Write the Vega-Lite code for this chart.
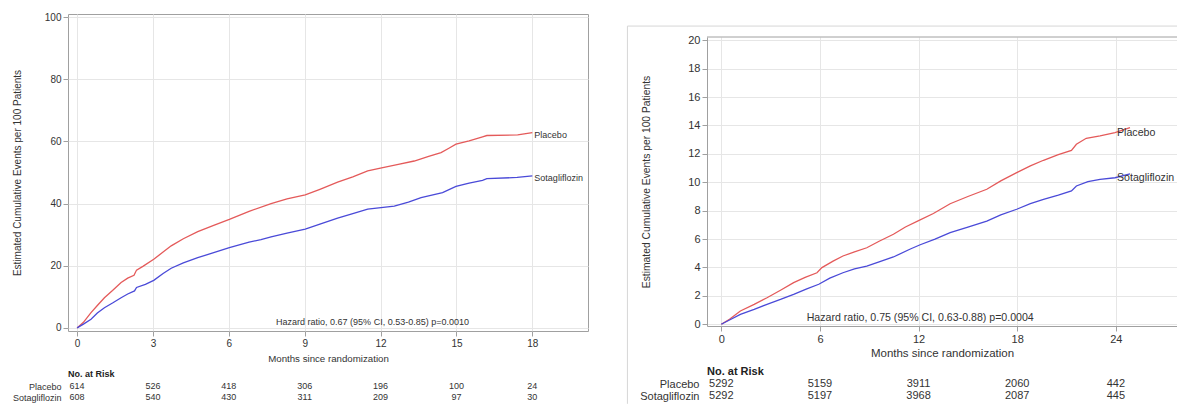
{
  "$schema": "https://vega.github.io/schema/vega-lite/v6.json",
  "background": "white",
  "padding": {"left": 11, "top": 11, "right": 0, "bottom": 0},
  "config": {
    "font": "Liberation Sans",
    "view": {"stroke": null},
    "axis": {"labelColor": "#333333", "titleColor": "#333333", "titleFontWeight": "normal", "gridColor": "#e6e6e6", "tickColor": "#a0a0a0", "domainColor": "#a0a0a0", "labelFlush": false, "labelOverlap": false},
    "text": {"color": "#333333"},
    "title": {"color": "#222222"}
  },
  "datasets": {
    "leftCurves": [
      {"group": "Placebo", "month": 0, "value": 0},
      {"group": "Placebo", "month": 0.25, "value": 1.8},
      {"group": "Placebo", "month": 0.55, "value": 4.9},
      {"group": "Placebo", "month": 0.8, "value": 7.2},
      {"group": "Placebo", "month": 1.08, "value": 9.7},
      {"group": "Placebo", "month": 1.4, "value": 12.0},
      {"group": "Placebo", "month": 1.74, "value": 14.6},
      {"group": "Placebo", "month": 2.0, "value": 16.0},
      {"group": "Placebo", "month": 2.25, "value": 16.9},
      {"group": "Placebo", "month": 2.35, "value": 18.6},
      {"group": "Placebo", "month": 2.6, "value": 19.8},
      {"group": "Placebo", "month": 3.03, "value": 22.1},
      {"group": "Placebo", "month": 3.4, "value": 24.4},
      {"group": "Placebo", "month": 3.72, "value": 26.4},
      {"group": "Placebo", "month": 4.2, "value": 28.7},
      {"group": "Placebo", "month": 4.77, "value": 31.0},
      {"group": "Placebo", "month": 5.4, "value": 33.0},
      {"group": "Placebo", "month": 6.02, "value": 34.9},
      {"group": "Placebo", "month": 6.8, "value": 37.5},
      {"group": "Placebo", "month": 7.67, "value": 40.0},
      {"group": "Placebo", "month": 8.3, "value": 41.5},
      {"group": "Placebo", "month": 9.02, "value": 42.8},
      {"group": "Placebo", "month": 9.6, "value": 44.6},
      {"group": "Placebo", "month": 10.3, "value": 46.9},
      {"group": "Placebo", "month": 10.9, "value": 48.6},
      {"group": "Placebo", "month": 11.49, "value": 50.5},
      {"group": "Placebo", "month": 12.04, "value": 51.5},
      {"group": "Placebo", "month": 12.7, "value": 52.6},
      {"group": "Placebo", "month": 13.33, "value": 53.7},
      {"group": "Placebo", "month": 13.9, "value": 55.2},
      {"group": "Placebo", "month": 14.39, "value": 56.4},
      {"group": "Placebo", "month": 14.7, "value": 57.8},
      {"group": "Placebo", "month": 14.98, "value": 59.1},
      {"group": "Placebo", "month": 15.5, "value": 60.2},
      {"group": "Placebo", "month": 16.03, "value": 61.5},
      {"group": "Placebo", "month": 16.2, "value": 61.9},
      {"group": "Placebo", "month": 17.42, "value": 62.1},
      {"group": "Placebo", "month": 18.0, "value": 62.8},
      {"group": "Sotagliflozin", "month": 0, "value": 0},
      {"group": "Sotagliflozin", "month": 0.25, "value": 1.2},
      {"group": "Sotagliflozin", "month": 0.55, "value": 2.8},
      {"group": "Sotagliflozin", "month": 0.8, "value": 4.8},
      {"group": "Sotagliflozin", "month": 1.08, "value": 6.5},
      {"group": "Sotagliflozin", "month": 1.4, "value": 8.0},
      {"group": "Sotagliflozin", "month": 1.74, "value": 9.7},
      {"group": "Sotagliflozin", "month": 2.0, "value": 10.9},
      {"group": "Sotagliflozin", "month": 2.27, "value": 11.9},
      {"group": "Sotagliflozin", "month": 2.35, "value": 13.0},
      {"group": "Sotagliflozin", "month": 2.7, "value": 14.0},
      {"group": "Sotagliflozin", "month": 3.03, "value": 15.3},
      {"group": "Sotagliflozin", "month": 3.4, "value": 17.5},
      {"group": "Sotagliflozin", "month": 3.72, "value": 19.2},
      {"group": "Sotagliflozin", "month": 4.2, "value": 20.9},
      {"group": "Sotagliflozin", "month": 4.77, "value": 22.6},
      {"group": "Sotagliflozin", "month": 5.4, "value": 24.2},
      {"group": "Sotagliflozin", "month": 6.02, "value": 25.8},
      {"group": "Sotagliflozin", "month": 6.8, "value": 27.6},
      {"group": "Sotagliflozin", "month": 7.27, "value": 28.4},
      {"group": "Sotagliflozin", "month": 7.67, "value": 29.3},
      {"group": "Sotagliflozin", "month": 8.3, "value": 30.5},
      {"group": "Sotagliflozin", "month": 9.02, "value": 31.8},
      {"group": "Sotagliflozin", "month": 9.6, "value": 33.4},
      {"group": "Sotagliflozin", "month": 10.3, "value": 35.3},
      {"group": "Sotagliflozin", "month": 10.9, "value": 36.8},
      {"group": "Sotagliflozin", "month": 11.49, "value": 38.2},
      {"group": "Sotagliflozin", "month": 12.54, "value": 39.2},
      {"group": "Sotagliflozin", "month": 13.1, "value": 40.5},
      {"group": "Sotagliflozin", "month": 13.6, "value": 41.9},
      {"group": "Sotagliflozin", "month": 14.45, "value": 43.5},
      {"group": "Sotagliflozin", "month": 14.98, "value": 45.5},
      {"group": "Sotagliflozin", "month": 15.5, "value": 46.6},
      {"group": "Sotagliflozin", "month": 16.03, "value": 47.5},
      {"group": "Sotagliflozin", "month": 16.2, "value": 48.0},
      {"group": "Sotagliflozin", "month": 17.4, "value": 48.4},
      {"group": "Sotagliflozin", "month": 18.0, "value": 48.9}
    ],
    "rightCurves": [
      {"group": "Placebo", "month": 0, "value": 0},
      {"group": "Placebo", "month": 0.5, "value": 0.35},
      {"group": "Placebo", "month": 1.16, "value": 0.94},
      {"group": "Placebo", "month": 2.0, "value": 1.4},
      {"group": "Placebo", "month": 2.78, "value": 1.87},
      {"group": "Placebo", "month": 3.6, "value": 2.4},
      {"group": "Placebo", "month": 4.4, "value": 2.93},
      {"group": "Placebo", "month": 5.1, "value": 3.3},
      {"group": "Placebo", "month": 5.82, "value": 3.63},
      {"group": "Placebo", "month": 6.12, "value": 3.99},
      {"group": "Placebo", "month": 6.8, "value": 4.45},
      {"group": "Placebo", "month": 7.4, "value": 4.81},
      {"group": "Placebo", "month": 8.1, "value": 5.1},
      {"group": "Placebo", "month": 8.85, "value": 5.39},
      {"group": "Placebo", "month": 9.6, "value": 5.85},
      {"group": "Placebo", "month": 10.47, "value": 6.34},
      {"group": "Placebo", "month": 11.2, "value": 6.85},
      {"group": "Placebo", "month": 12.0, "value": 7.3},
      {"group": "Placebo", "month": 12.9, "value": 7.8},
      {"group": "Placebo", "month": 13.92, "value": 8.49},
      {"group": "Placebo", "month": 15.0, "value": 9.0},
      {"group": "Placebo", "month": 16.15, "value": 9.51},
      {"group": "Placebo", "month": 17.0, "value": 10.1},
      {"group": "Placebo", "month": 17.97, "value": 10.68},
      {"group": "Placebo", "month": 18.8, "value": 11.15},
      {"group": "Placebo", "month": 19.6, "value": 11.55},
      {"group": "Placebo", "month": 20.5, "value": 11.95},
      {"group": "Placebo", "month": 21.3, "value": 12.25},
      {"group": "Placebo", "month": 21.6, "value": 12.68},
      {"group": "Placebo", "month": 22.2, "value": 13.1},
      {"group": "Placebo", "month": 23.04, "value": 13.26},
      {"group": "Placebo", "month": 23.95, "value": 13.49},
      {"group": "Placebo", "month": 24.86, "value": 13.85},
      {"group": "Sotagliflozin", "month": 0, "value": 0},
      {"group": "Sotagliflozin", "month": 0.5, "value": 0.3},
      {"group": "Sotagliflozin", "month": 1.16, "value": 0.7},
      {"group": "Sotagliflozin", "month": 2.0, "value": 1.05},
      {"group": "Sotagliflozin", "month": 2.78, "value": 1.41},
      {"group": "Sotagliflozin", "month": 3.6, "value": 1.75},
      {"group": "Sotagliflozin", "month": 4.4, "value": 2.11},
      {"group": "Sotagliflozin", "month": 5.2, "value": 2.5},
      {"group": "Sotagliflozin", "month": 5.93, "value": 2.82},
      {"group": "Sotagliflozin", "month": 6.6, "value": 3.25},
      {"group": "Sotagliflozin", "month": 7.4, "value": 3.63},
      {"group": "Sotagliflozin", "month": 8.1, "value": 3.9},
      {"group": "Sotagliflozin", "month": 8.85, "value": 4.1},
      {"group": "Sotagliflozin", "month": 9.6, "value": 4.4},
      {"group": "Sotagliflozin", "month": 10.47, "value": 4.74},
      {"group": "Sotagliflozin", "month": 11.5, "value": 5.3},
      {"group": "Sotagliflozin", "month": 12.1, "value": 5.6},
      {"group": "Sotagliflozin", "month": 13.0, "value": 6.0},
      {"group": "Sotagliflozin", "month": 13.92, "value": 6.45},
      {"group": "Sotagliflozin", "month": 15.0, "value": 6.85},
      {"group": "Sotagliflozin", "month": 16.15, "value": 7.27},
      {"group": "Sotagliflozin", "month": 17.0, "value": 7.7},
      {"group": "Sotagliflozin", "month": 17.97, "value": 8.1},
      {"group": "Sotagliflozin", "month": 18.8, "value": 8.5},
      {"group": "Sotagliflozin", "month": 19.6, "value": 8.8},
      {"group": "Sotagliflozin", "month": 20.5, "value": 9.1},
      {"group": "Sotagliflozin", "month": 21.3, "value": 9.39},
      {"group": "Sotagliflozin", "month": 21.6, "value": 9.74},
      {"group": "Sotagliflozin", "month": 22.3, "value": 10.05},
      {"group": "Sotagliflozin", "month": 23.04, "value": 10.21},
      {"group": "Sotagliflozin", "month": 23.95, "value": 10.32},
      {"group": "Sotagliflozin", "month": 24.86, "value": 10.6}
    ],
    "leftRisk": [
      {"group": "Placebo", "month": 0, "n": 614},
      {"group": "Placebo", "month": 3, "n": 526},
      {"group": "Placebo", "month": 6, "n": 418},
      {"group": "Placebo", "month": 9, "n": 306},
      {"group": "Placebo", "month": 12, "n": 196},
      {"group": "Placebo", "month": 15, "n": 100},
      {"group": "Placebo", "month": 18, "n": 24},
      {"group": "Sotagliflozin", "month": 0, "n": 608},
      {"group": "Sotagliflozin", "month": 3, "n": 540},
      {"group": "Sotagliflozin", "month": 6, "n": 430},
      {"group": "Sotagliflozin", "month": 9, "n": 311},
      {"group": "Sotagliflozin", "month": 12, "n": 209},
      {"group": "Sotagliflozin", "month": 15, "n": 97},
      {"group": "Sotagliflozin", "month": 18, "n": 30}
    ],
    "rightRisk": [
      {"group": "Placebo", "month": 0, "n": 5292},
      {"group": "Placebo", "month": 6, "n": 5159},
      {"group": "Placebo", "month": 12, "n": 3911},
      {"group": "Placebo", "month": 18, "n": 2060},
      {"group": "Placebo", "month": 24, "n": 442},
      {"group": "Sotagliflozin", "month": 0, "n": 5292},
      {"group": "Sotagliflozin", "month": 6, "n": 5197},
      {"group": "Sotagliflozin", "month": 12, "n": 3968},
      {"group": "Sotagliflozin", "month": 18, "n": 2087},
      {"group": "Sotagliflozin", "month": 24, "n": 445}
    ]
  },
  "hconcat": [
    {
      "vconcat": [
        {
          "width": 520,
          "height": 317,
          "view": {"stroke": "#a0a0a0"},
          "layer": [
            {
              "data": {"name": "leftCurves"},
              "mark": {"type": "line", "strokeWidth": 1.3},
              "encoding": {
                "x": {"field": "month", "type": "quantitative", "scale": {"domain": [-0.36, 20.2], "nice": false, "zero": false},
                  "axis": {"values": [0, 3, 6, 9, 12, 15, 18], "title": "Months since randomization", "labelFontSize": 10, "titleFontSize": 9.7, "tickSize": 5, "labelPadding": 2, "titlePadding": 5, "domain": false, "grid": true}},
                "y": {"field": "value", "type": "quantitative", "scale": {"domain": [-1, 101], "nice": false, "zero": false},
                  "axis": {"values": [0, 20, 40, 60, 80, 100], "title": "Estimated Cumulative Events per 100 Patients", "labelFontSize": 10, "titleFontSize": 10, "tickSize": 5, "labelPadding": 2, "titlePadding": 22, "domain": false, "grid": true}},
                "color": {"field": "group", "type": "nominal", "scale": {"domain": ["Placebo", "Sotagliflozin"], "range": ["#e45a5a", "#4a4ad8"]}, "legend": null}
              }
            },
            {
              "data": {"name": "leftCurves"},
              "transform": [{"filter": "datum.month == 18"}],
              "mark": {"type": "text", "align": "left", "dx": 2, "dy": 2.5, "fontSize": 9},
              "encoding": {"x": {"field": "month", "type": "quantitative"}, "y": {"field": "value", "type": "quantitative"}, "text": {"field": "group", "type": "nominal"}}
            },
            {
              "data": {"values": [{}]},
              "mark": {"type": "text", "align": "center", "fontSize": 9},
              "encoding": {"x": {"datum": 11.68}, "y": {"datum": 1.93}, "text": {"value": "Hazard ratio, 0.67 (95% CI, 0.53-0.85) p=0.0010"}}
            }
          ]
        },
        {
          "width": 520,
          "height": 22,
          "title": {"text": "No. at Risk", "anchor": "start", "frame": "group", "fontSize": 9, "fontWeight": "bold", "offset": 2},
          "data": {"name": "leftRisk"},
          "mark": {"type": "text", "fontSize": 9},
          "encoding": {
            "x": {"field": "month", "type": "quantitative", "scale": {"domain": [-0.36, 20.2], "nice": false, "zero": false}, "axis": null},
            "y": {"field": "group", "type": "nominal", "scale": {"domain": ["Placebo", "Sotagliflozin"], "paddingInner": 0, "paddingOuter": 0},
              "axis": {"title": null, "ticks": false, "domain": false, "labelFontSize": 9, "labelPadding": 7, "grid": false}},
            "text": {"field": "n", "type": "quantitative"}
          }
        }
      ],
      "spacing": 49.5,
      "bounds": "flush"
    },
    {
      "vconcat": [
        {
          "width": 470,
          "height": 22.5,
          "data": {"values": []},
          "mark": "point",
          "encoding": {}
        },
        {
          "vconcat": [
            {
              "width": 470,
              "height": 289,
              "encoding": {
                "x": {"type": "quantitative", "scale": {"domain": [-0.87, 27.72], "nice": false, "zero": false},
                  "axis": {"values": [0, 6, 12, 18, 24], "title": "Months since randomization", "labelFontSize": 11, "titleFontSize": 11.5, "tickSize": 5, "labelPadding": 2, "titlePadding": 3, "domain": true, "grid": true}},
                "y": {"type": "quantitative", "scale": {"domain": [-0.12, 20.23], "nice": false, "zero": false},
                  "axis": {"values": [0, 2, 4, 6, 8, 10, 12, 14, 16, 18, 20], "tickCount": 11, "title": "Estimated Cumulative Events per 100 Patients", "labelFontSize": 11, "titleFontSize": 10.3, "tickSize": 5, "labelPadding": 2, "titlePadding": 36, "domain": true, "grid": true}}
              },
              "layer": [
                {
                  "data": {"name": "rightCurves"},
                  "mark": {"type": "line", "strokeWidth": 1.3},
                  "encoding": {
                    "x": {"field": "month"},
                    "y": {"field": "value"},
                    "color": {"field": "group", "type": "nominal", "scale": {"domain": ["Placebo", "Sotagliflozin"], "range": ["#e45a5a", "#4a4ad8"]}, "legend": null}
                  }
                },
                {
                  "data": {"values": [{}]},
                  "mark": {"type": "rule", "color": "#d6d6d6"},
                  "encoding": {"x": {"datum": -5.71}, "x2": {"datum": 27.72}, "y": {"datum": 21.0}}
                },
                {
                  "data": {"values": [{}]},
                  "mark": {"type": "rule", "color": "#d6d6d6"},
                  "encoding": {"x": {"datum": -5.71}, "y": {"datum": 21.0}, "y2": {"datum": -5.6}}
                },
                {
                  "data": {"values": [{}]},
                  "mark": {"type": "rule", "color": "#a0a0a0"},
                  "encoding": {"x": {"datum": -0.87}, "x2": {"datum": 27.72}, "y": {"datum": 20.23}}
                },
                {
                  "data": {"name": "rightCurves"},
                  "transform": [{"filter": "datum.month == 23.95"}],
                  "mark": {"type": "text", "align": "left", "dx": 2, "fontSize": 10.6},
                  "encoding": {"x": {"field": "month"}, "y": {"field": "value"}, "text": {"field": "group", "type": "nominal"}}
                },
                {
                  "data": {"values": [{}]},
                  "mark": {"type": "text", "align": "center", "fontSize": 10.6},
                  "encoding": {"x": {"datum": 12.1}, "y": {"datum": 0.44}, "text": {"value": "Hazard ratio, 0.75 (95% CI, 0.63-0.88) p=0.0004"}}
                }
              ]
            },
            {
              "width": 470,
              "height": 23.4,
              "title": {"text": "No. at Risk", "anchor": "start", "frame": "group", "fontSize": 11, "fontWeight": "bold", "offset": 1},
              "data": {"name": "rightRisk"},
              "mark": {"type": "text", "fontSize": 11},
              "encoding": {
                "x": {"field": "month", "type": "quantitative", "scale": {"domain": [-0.87, 27.72], "nice": false, "zero": false}, "axis": null},
                "y": {"field": "group", "type": "nominal", "scale": {"domain": ["Placebo", "Sotagliflozin"], "paddingInner": 0, "paddingOuter": 0},
                  "axis": {"title": null, "ticks": false, "domain": false, "labelFontSize": 11, "labelPadding": 8, "grid": false}},
                "text": {"field": "n", "type": "quantitative"}
              }
            }
          ],
          "spacing": 52.5,
          "bounds": "flush"
        }
      ],
      "spacing": 0,
      "bounds": "flush"
    }
  ],
  "spacing": 37,
  "bounds": "full"
}
